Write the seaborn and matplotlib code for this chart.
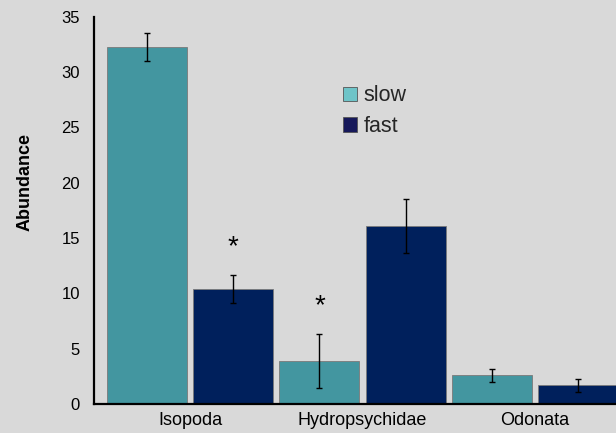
import pandas as pd
import seaborn as sns
import matplotlib.pyplot as plt
from matplotlib.patches import Patch

# data
taxa = ["Isopoda", "Hydropsychidae", "Odonata"]
flow = ["slow", "fast"]
slow_mean = [32.3, 3.9, 2.6]
fast_mean = [10.4, 16.1, 1.7]
slow_err = [1.25, 2.45, 0.6]
fast_err = [1.3, 2.45, 0.6]
stars = [("Isopoda", "fast"), ("Hydropsychidae", "slow")]

bar_colors = {"slow": "#4396a0", "fast": "#00205c"}
legend_colors = {"slow": "#6ec4c8", "fast": "#16185a"}
bg = "#d9d9d9"

df = pd.DataFrame({
    "taxon": taxa * 2,
    "flow": ["slow"] * 3 + ["fast"] * 3,
    "abundance": slow_mean + fast_mean,
    "err": slow_err + fast_err,
})

sns.set_theme(style="white")
plt.rcParams["font.family"] = ["Liberation Sans", "DejaVu Sans"]

fig = plt.figure(figsize=(6.16, 4.33), dpi=100, facecolor=bg)
ax = fig.add_axes([0.1526, 0.067, 0.8474, 0.894])
ax.set_facecolor(bg)

sns.barplot(data=df, x="taxon", y="abundance", hue="flow", order=taxa,
            hue_order=flow, palette=bar_colors, saturation=1, width=1.0,
            gap=0.07, errorbar=None, edgecolor="#7a7a7a", linewidth=0.6,
            legend=False, ax=ax)

# error bars and significance stars on top of the bars
for cont, f in zip(ax.containers, flow):
    sub = df[df.flow == f].set_index("taxon").loc[taxa]
    xs = [b.get_x() + b.get_width() / 2 for b in cont]
    ax.errorbar(xs, sub["abundance"], yerr=sub["err"], fmt="none",
                ecolor="black", elinewidth=1, capsize=2, capthick=1)
    for x, t, m, e in zip(xs, taxa, sub["abundance"], sub["err"]):
        if (t, f) in stars:
            ax.text(x, m + e + 2.5, "*", ha="center", va="center",
                    fontsize=20, color="black")

ax.set_xlim(-0.558, 2.471)
ax.set_ylim(0, 35)
ax.set_yticks(range(0, 36, 5))
ax.set_xlabel("")
ax.set_ylabel("Abundance", fontsize=13, fontweight="bold", color="black")
ax.yaxis.set_label_coords(-0.115, 0.574)
ax.tick_params(axis="y", length=0, labelsize=12, colors="black", pad=10)
ax.tick_params(axis="x", length=0, labelsize=13, colors="black", pad=6)
for s in ["top", "right"]:
    ax.spines[s].set_visible(False)
for s in ["left", "bottom"]:
    ax.spines[s].set_color("black")
    ax.spines[s].set_linewidth(1.6)

handles = [Patch(facecolor=legend_colors[f], edgecolor="#555555", linewidth=0.6,
                 label=f) for f in flow]
ax.legend(handles=handles, loc="upper left", bbox_to_anchor=(0.44, 0.873),
          frameon=False, fontsize=15.5, handlelength=0.65, handleheight=0.65,
          handletextpad=0.3, labelspacing=0.45)

fig.savefig("out.png", dpi=100, facecolor=bg)
